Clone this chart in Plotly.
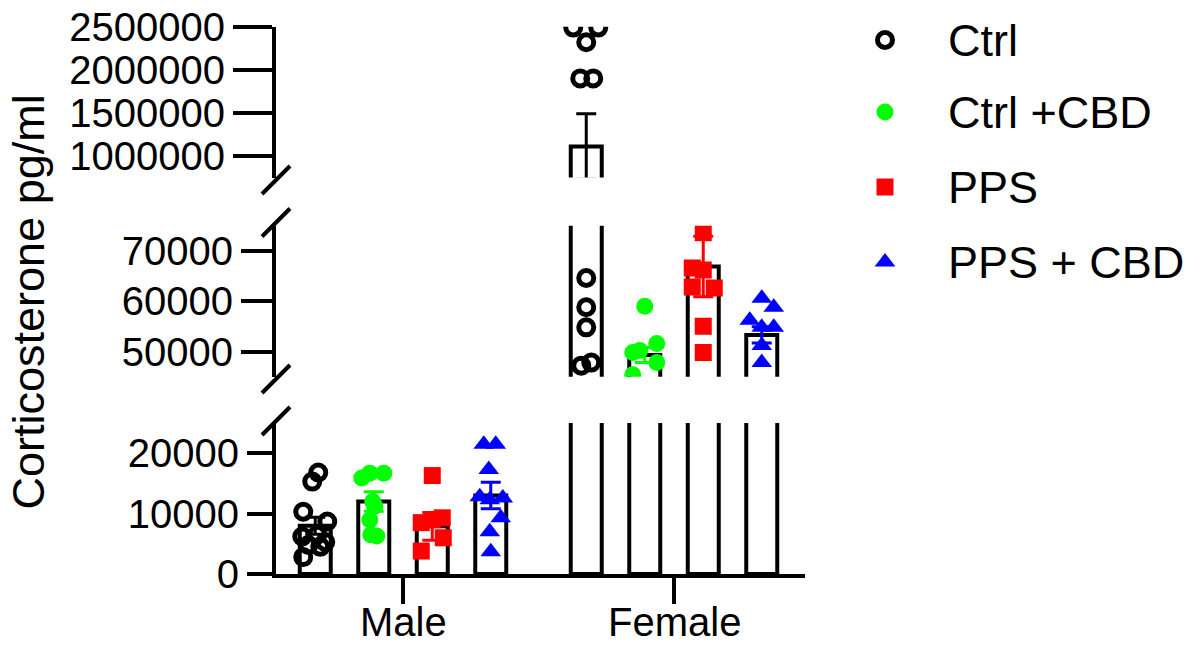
import plotly.graph_objects as go

W, H = 1200, 645

SEXES = ["Male", "Female"]
GROUPS = ["Ctrl", "Ctrl +CBD", "PPS", "PPS + CBD"]

# individual animals (pg/ml)
male_ctrl = [16800, 15300, 10300, 8700, 6500, 6200, 5300, 4800, 4500, 2800]
male_ctrl_cbd = [16700, 16700, 15900, 12000, 11200, 8950, 6500, 6300]
male_pps = [16300, 9300, 9000, 8500, 6000, 3800]
male_pps_cbd = [21500, 21500, 17300, 12800, 12600, 12300, 9300, 7000, 3700]
female_ctrl = [2490000, 2490000, 2320000, 1900000, 1900000, 64600, 58800, 54800, 47800, 47200]
female_ctrl_cbd = [59000, 51600, 50200, 49800, 47800, 45400]
female_pps = [73600, 66600, 66200, 62800, 62600, 55000, 49800]
female_pps_cbd = [60600, 58800, 56200, 54800, 54800, 51200, 47800]

# group mean and SEM
male_mean = [8000, 12000, 7900, 13000]
male_sem = [1400, 1600, 2300, 2200]
female_mean = [1110000, 49300, 66900, 53300]
female_sem = [380000, 1500, 6000, 1600]

ticks_low = [0, 10000, 20000]
ticks_mid = [50000, 60000, 70000]
ticks_high = [1000000, 1500000, 2000000, 2500000]

points = {
    "Male": [male_ctrl, male_ctrl_cbd, male_pps, male_pps_cbd],
    "Female": [female_ctrl, female_ctrl_cbd, female_pps, female_pps_cbd],
}
means = {"Male": male_mean, "Female": female_mean}
sems = {"Male": male_sem, "Female": female_sem}

# ---- layout / styling ----
FONT = "Liberation Sans, Arial, sans-serif"
PX_PER_UNIT = 271.0          # horizontal pixels per category unit
X0_PX = 403.0                # pixel of the "Male" category
AX_LEFT, AX_RIGHT = 276.0, 805.0
STEP = 58.5 / PX_PER_UNIT
BAR_W = 31.0 / PX_PER_UNIT

# horizontal scatter offsets of the dots (pixels from bar centre)
JITTER_PX = {
    "Male": [
        [3, -3, -12, 12, 2, -13, 10, -7, 5, -12],
        [-4, 10, -12, -1, 1, -4, -3, 3],
        [0, 10, 0, -11, 11, -11],
        [-7, 5, -2, -11, 12, -1, 10, -1, 0],
    ],
    "Female": [
        [-13, 12, 0, -6, 7, 0, 0, 0, 5, -5],
        [0, 12, -5, -12, 12, -12],
        [0, -11, 0, -11, 11, 0, 0],
        [0, 12, -12, 0, 12, 0, 0],
    ],
}

STYLES = [
    dict(symbol="circle-open", color="black", size=15, line=dict(color="black", width=5)),
    dict(symbol="circle", color="#00ff00", size=17, line=dict(width=0)),
    dict(symbol="square", color="#ff0000", size=17, line=dict(width=0)),
    dict(symbol="triangle-up", color="#0000ff", size=18, line=dict(width=0)),
]
ERR_COLORS = ["black", "#00ff00", "#ff0000", "#0000ff"]

# y-axis segments (pixel top/bottom of each piece)
SEGMENTS = [
    dict(top=423.0, bottom=574.0, range=[0, 25000], ticks=ticks_low, ticklen=25),
    dict(top=225.7, bottom=376.7, range=[45000, 75000], ticks=ticks_mid, ticklen=31),
    dict(top=26.7, bottom=177.5, range=[750000, 2500000], ticks=ticks_high, ticklen=39),
]

x_range = [(AX_LEFT - X0_PX) / PX_PER_UNIT, (AX_RIGHT - X0_PX) / PX_PER_UNIT]


def bar_pos(sex_idx, g):
    return sex_idx + (g - 1.5) * STEP


fig = go.Figure()

bar_x, bar_y = [], []
for s, sex in enumerate(SEXES):
    for g in range(4):
        bar_x.append(bar_pos(s, g))
        bar_y.append(means[sex][g])

for i, seg in enumerate(SEGMENTS):
    xa = "x" if i == 0 else f"x{i + 1}"
    ya = "y" if i == 0 else f"y{i + 1}"
    fig.add_trace(go.Bar(
        x=bar_x, y=bar_y, width=BAR_W, xaxis=xa, yaxis=ya,
        marker=dict(color="white", line=dict(color="black", width=4)),
        showlegend=False, hoverinfo="skip",
    ))
    for g in range(4):
        xs, ys = [], []
        for s, sex in enumerate(SEXES):
            for v, j in zip(points[sex][g], JITTER_PX[sex][g]):
                xs.append(bar_pos(s, g) + j / PX_PER_UNIT)
                ys.append(v)
        fig.add_trace(go.Scatter(
            x=xs, y=ys, mode="markers", xaxis=xa, yaxis=ya,
            marker=STYLES[g], showlegend=False, cliponaxis=True,
        ))
    for g in range(4):
        fig.add_trace(go.Scatter(
            x=[bar_pos(s, g) for s in range(2)],
            y=[means[sex][g] for sex in SEXES],
            error_y=dict(type="data", array=[sems[sex][g] for sex in SEXES],
                         color=ERR_COLORS[g], thickness=3, width=10),
            mode="markers", marker=dict(size=1, color="rgba(0,0,0,0)"),
            xaxis=xa, yaxis=ya, showlegend=False, cliponaxis=True,
        ))

layout = dict(
    width=W, height=H, margin=dict(l=0, r=0, t=0, b=0, autoexpand=False),
    paper_bgcolor="white", plot_bgcolor="rgba(0,0,0,0)",
    showlegend=False, barmode="overlay",
    font=dict(family=FONT, color="black", size=40),
)

xdom = [AX_LEFT / W, AX_RIGHT / W]
for i, seg in enumerate(SEGMENTS):
    xk = "xaxis" if i == 0 else f"xaxis{i + 1}"
    yk = "yaxis" if i == 0 else f"yaxis{i + 1}"
    ya = "y" if i == 0 else f"y{i + 1}"
    xa = "x" if i == 0 else f"x{i + 1}"
    if i == 0:
        layout[xk] = dict(
            domain=xdom, range=x_range, anchor=ya, showgrid=False, zeroline=False,
            showline=True, linecolor="black", linewidth=4, automargin=False,
            ticks="outside", ticklen=26, tickwidth=4, tickcolor="black",
            tickvals=[0, 1], showticklabels=False,
        )
    else:
        layout[xk] = dict(domain=xdom, range=x_range, anchor=ya, visible=False,
                          automargin=False)
    layout[yk] = dict(
        domain=[1 - seg["bottom"] / H, 1 - seg["top"] / H], range=seg["range"],
        anchor=xa, showgrid=False, zeroline=False, automargin=False,
        showline=True, linecolor="black", linewidth=4,
        ticks="outside", ticklen=seg["ticklen"], tickwidth=4, tickcolor="black",
        tickvals=seg["ticks"], ticktext=[str(t) for t in seg["ticks"]],
        tickfont=dict(size=40, family=FONT),
    )

# overlay axes in pixel units, used for the legend and category labels
layout["xaxis4"] = dict(domain=[0, 1], range=[0, W], anchor="y4", visible=False,
                        automargin=False)
layout["yaxis4"] = dict(domain=[0, 1], range=[H, 0], anchor="x4", visible=False,
                        automargin=False)

fig.update_layout(**layout)

# category labels under the x axis
for s, sex in enumerate(SEXES):
    fig.add_annotation(
        x=X0_PX + s * PX_PER_UNIT, y=622, xref="x4", yref="y4", text=sex,
        showarrow=False, xanchor="center", yanchor="middle",
        font=dict(size=40, family=FONT),
    )

# axis break marks
shapes = []
for cy in [421.0, 379.0, 222.5, 180.0]:
    shapes.append(dict(
        type="line", xref="paper", yref="paper",
        x0=(AX_LEFT - 14) / W, y0=1 - (cy + 14) / H,
        x1=(AX_LEFT + 14) / W, y1=1 - (cy - 14) / H,
        line=dict(color="black", width=4),
    ))
fig.update_layout(shapes=shapes)

# legend
LEG_Y = [40, 112, 187, 262]
for g, name in enumerate(GROUPS):
    fig.add_trace(go.Scatter(
        x=[885], y=[LEG_Y[g]], mode="markers", xaxis="x4", yaxis="y4",
        marker=STYLES[g], showlegend=False, hoverinfo="skip",
    ))
    fig.add_annotation(
        x=946, y=LEG_Y[g], xref="x4", yref="y4", text=name, showarrow=False,
        xanchor="left", yanchor="middle", font=dict(size=45, family=FONT),
    )

fig.add_annotation(
    x=28 / W, y=1 - 302.5 / H, xref="paper", yref="paper",
    text="Corticosterone pg/ml", textangle=-90, showarrow=False,
    xanchor="center", yanchor="middle", font=dict(size=45, family=FONT),
)

fig.write_html("out.html")
